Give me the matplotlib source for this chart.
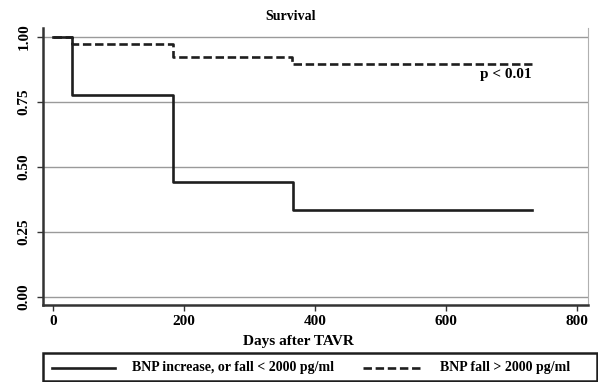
import matplotlib
matplotlib.use("Agg")
import matplotlib.pyplot as plt
from matplotlib.lines import Line2D
from matplotlib.patches import Rectangle

# Data
solid_days = [0, 29, 183, 366, 731]
solid_surv = [1.0, 0.778, 0.444, 0.333, 0.333]
dashed_days = [0, 30, 183, 365, 731]
dashed_surv = [1.0, 0.972, 0.923, 0.897, 0.897]
x_ticks = [0, 200, 400, 600, 800]
y_ticks = [0.00, 0.25, 0.50, 0.75, 1.00]
y_tick_labels = ["0.00", "0.25", "0.50", "0.75", "1.00"]
legend_labels = ["BNP increase, or fall < 2000 pg/ml", "BNP fall > 2000 pg/ml"]

plt.rcParams['font.family'] = ['Liberation Serif', 'DejaVu Serif']
plt.rcParams['font.weight'] = 'bold'

W, H = 598, 382
fig = plt.figure(figsize=(W / 100, H / 100), dpi=100)
fig.patch.set_facecolor('white')
ax = fig.add_axes([43 / W, 1 - 305 / H, (588 - 43) / W, (305 - 28) / H])

ax.set_xlim(-15, 817)
ax.set_ylim(-0.031, 1.035)

for y in y_ticks:
    ax.axhline(y, color='#9a9a9a', lw=1.0, zorder=1)

line_color = '#1e1e1e'
DASH = (3.2, 1.4)
LW = 1.9
ax.step(solid_days, solid_surv, where='post', color=line_color, lw=LW, zorder=3)
ax.step(dashed_days, dashed_surv, where='post', color=line_color, lw=LW,
        dashes=DASH, zorder=3)

ax.text(731, 0.855, "p < 0.01", ha='right', va='center', fontsize=11, fontweight='bold')

ax.set_xticks(x_ticks)
ax.set_xticklabels([str(v) for v in x_ticks], fontsize=11, fontweight='bold')
ax.set_yticks(y_ticks)
ax.set_yticklabels(y_tick_labels, fontsize=11, fontweight='bold', rotation=90, va='center')
ax.tick_params(axis='both', direction='out', length=4, width=1.0, color='#333333')
ax.tick_params(axis='x', pad=3)
ax.tick_params(axis='y', pad=5)

ax.spines['top'].set_visible(False)
ax.spines['right'].set_color('#b0b0b0')
ax.spines['right'].set_linewidth(0.8)
ax.spines['left'].set_color('#333333')
ax.spines['left'].set_linewidth(1.8)
ax.spines['bottom'].set_color('#333333')
ax.spines['bottom'].set_linewidth(1.8)

fig.text(291 / W, 1 - 16 / H, "Survival", ha='center', va='center', fontsize=10, fontweight='bold')
fig.text(298 / W, 1 - 342 / H, "Days after TAVR", ha='center', va='center', fontsize=11, fontweight='bold')

# Legend box (manual layout to match reference)
def fx(px):
    return px / W

def fy(py):
    return 1 - py / H

fig.patches.append(Rectangle((fx(43), fy(381)), fx(597) - fx(43), fy(353) - fy(381),
                             transform=fig.transFigure, fill=False,
                             edgecolor=line_color, lw=1.8))
ly = fy(368)
fig.add_artist(Line2D([fx(52), fx(115)], [ly, ly], transform=fig.transFigure,
                      color=line_color, lw=LW))
fig.text(fx(132), ly, legend_labels[0], ha='left', va='center', fontsize=10, fontweight='bold')
fig.add_artist(Line2D([fx(363), fx(421)], [ly, ly], transform=fig.transFigure,
                      color=line_color, lw=LW, dashes=DASH))
fig.text(fx(440), ly, legend_labels[1], ha='left', va='center', fontsize=10, fontweight='bold')

fig.savefig('out.png', dpi=100, facecolor='white')
